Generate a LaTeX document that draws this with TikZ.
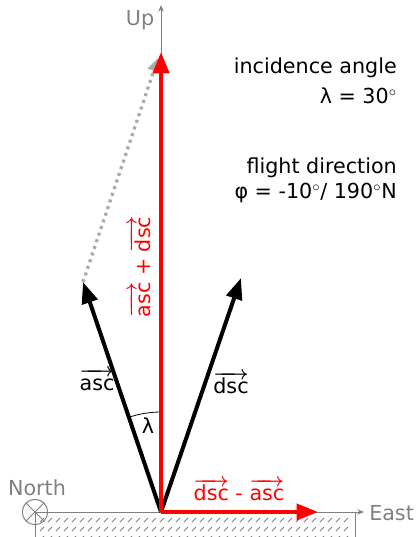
\documentclass[tikz,border=0pt]{standalone}
\usepackage{fontspec}
\setmainfont{DejaVu Sans}
\usetikzlibrary{arrows.meta}
\definecolor{axgray}{HTML}{808080}
\definecolor{dotgray}{HTML}{AAAAAA}
\newcommand{\vecl}[1]{{\boldmath\ensuremath{\overrightarrow{\mbox{\vphantom{d}\mdseries#1}}}}}
\begin{document}
\begin{tikzpicture}[x=0.75pt,y=-0.75pt,
  lbl/.style={font=\fontsize{15.5}{18}\selectfont, inner sep=0pt},
  axis/.style={draw=axgray, line width=0.75pt, -{Stealth[length=5pt,width=4pt]}},
  vecarrow/.style={line width=3pt, -{Triangle[length=16pt,width=12pt]}},
  ]
\useasboundingbox (0,0) rectangle (417,537);
% ground hatch
\foreach \yy in {520,529,538}{
  \foreach \xx in {40,48,...,348}{
    \draw[axgray, line width=0.6pt] (\xx,\yy+2) -- (\xx+4,\yy-2);
  }
}
\draw[axgray, line width=0.75pt] (35,537) -- (35,512) (355,512) -- (355,537);
\coordinate (O) at (161,512);
\coordinate (W) at (35,512);
\coordinate (E) at (364,512);
\coordinate (U) at (161,5);
\draw[axis] (W) -- (E);
\draw[axis] (O) -- (U);
\node[lbl, text=axgray, anchor=west] (east) at (369,513) {East};
\node[lbl, text=axgray] (up) at (140,20) {Up};
% north symbol
\node[draw=axgray, line width=0.75pt, circle, minimum size=19pt, inner sep=0pt] (north) at (W) {};
\draw[axgray, line width=0.75pt] (north.north east) -- (north.south west) (north.north west) -- (north.south east);
\node[lbl, text=axgray] (northlbl) at (37,488) {North};
% vector ends
\coordinate (A) at (83,282);
\coordinate (D) at (241,278);
\coordinate (S) at (161,52);
\coordinate (R) at (318,512);
% dotted
\draw[dotgray, line width=2.5pt, dash pattern=on 2.25pt off 3pt, -{Triangle[length=10pt,width=9pt]}] (A) -- (158,58);
% black vectors
\draw[vecarrow] (O) -- (A);
\draw[vecarrow] (O) -- (D);
% angle
\draw[line width=0.6pt] ([shift={(-90:100)}]O) arc[start angle=-90, end angle=-108.7, radius=100];
\node[lbl] (lam) at (148,426) {λ};
% red vectors
\draw[vecarrow, red] (O) -- (S);
\draw[vecarrow, red] (O) -- (R);
% labels
\node[lbl] (asclbl) at (97,380) {\vecl{asc}};
\node[lbl] (dsclbl) at (231,383) {\vecl{dsc}};
\node[lbl, text=red, rotate=90] (sumlbl) at (140,267) {\vecl{asc} + \vecl{dsc}};
\node[lbl, text=red] (difflbl) at (239,490) {\vecl{dsc} - \vecl{asc}};
\node[lbl, anchor=east] (inc) at (397,68) {incidence angle};
\node[lbl, anchor=east] (incv) at (397,96) {λ = 30$^\circ$};
\node[lbl, anchor=east] (fl) at (397,168) {flight direction};
\node[lbl, anchor=east] (flv) at (397,193) {φ = -10$^\circ$/ 190$^\circ$N};
\end{tikzpicture}
\end{document}
